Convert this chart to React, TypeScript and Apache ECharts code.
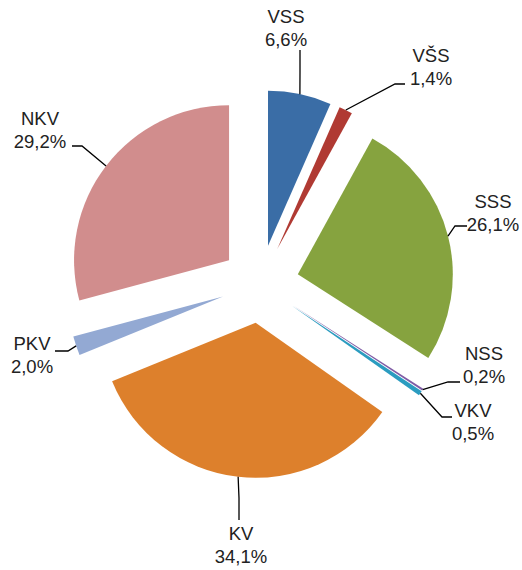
import React, { useEffect, useRef } from "react";
import * as echarts from "echarts";

const categories = ["VSS", "VŠS", "SSS", "NSS", "VKV", "KV", "PKV", "NKV"];
const values = [6.6, 1.4, 26.1, 0.2, 0.5, 34.1, 2.0, 29.2];
const colors = ["#3A6DA6", "#B03A33", "#86A33F", "#7F5CA6", "#2B9CC0", "#DD802C", "#93A9D3", "#D18D8D"];

// layout of labels (text centre, elbow, end of leader line)
const labelPos: [number, number][] = [
  [286, 28], [431, 67], [493, 213], [484, 365], [473, 422], [241, 545], [32, 355], [40, 130],
];
const elbow: [number, number][] = [
  [300, 72], [395, 84], [455, 226], [448, 382], [442, 417], [239, 498], [68, 351], [82, 146],
];
const lineEnd: [number, number][] = [
  [300, 50], [405, 84], [467, 226], [460, 382], [452, 417], [239, 520], [55, 351], [72, 146],
];

const CX = 260;
const CY = 284;
const R = 155;
const OFFSET = 39;

export default function App() {
  const ref = useRef<HTMLDivElement>(null);
  useEffect(() => {
    if (!ref.current) return;
    const chart = echarts.init(ref.current, undefined, { renderer: "svg" });
    const total = values.reduce((a, b) => a + b, 0);
    const mids: number[] = [];
    let cum = 0;
    values.forEach((v) => {
      mids.push(((cum + v / 2) / total) * Math.PI * 2);
      cum += v;
    });
    const startPt = (i: number): [number, number] => {
      const a = mids[i];
      return [CX + Math.sin(a) * (OFFSET + R), CY - Math.cos(a) * (OFFSET + R)];
    };
    const fmt = (v: number) => `${v.toFixed(1).replace(".", ",")}%`;
    const graphics: any[] = [];
    categories.forEach((n, i) => {
      graphics.push({
        type: "polyline",
        silent: true,
        shape: { points: [startPt(i), elbow[i], lineEnd[i]] },
        style: { stroke: "#000", lineWidth: 1.3, fill: null },
        z: 10,
      });
      graphics.push({
        type: "text",
        silent: true,
        x: labelPos[i][0],
        y: labelPos[i][1],
        style: {
          text: `${n}\n${fmt(values[i])}`,
          fill: "#222",
          fontSize: 18.5,
          lineHeight: 23,
          fontFamily: "'Liberation Sans', Arial, sans-serif",
          align: "center",
          verticalAlign: "middle",
        },
        z: 10,
      });
    });
    chart.setOption({
      animation: false,
      graphic: graphics,
      series: [
        {
          type: "pie",
          center: [CX, CY],
          radius: R,
          startAngle: 90,
          clockwise: true,
          selectedMode: "multiple",
          selectedOffset: OFFSET,
          avoidLabelOverlap: false,
          emphasis: { disabled: true },
          itemStyle: { borderWidth: 0 },
          label: { show: false },
          labelLine: { show: false },
          data: categories.map((n, i) => ({
            name: n,
            value: values[i],
            selected: true,
            itemStyle: { color: colors[i] },
          })),
        },
      ],
    });
    return () => chart.dispose();
  }, []);
  return <div ref={ref} style={{ position: "fixed", left: 0, top: 0, width: 522, height: 570, background: "#fff" }} />;
}
